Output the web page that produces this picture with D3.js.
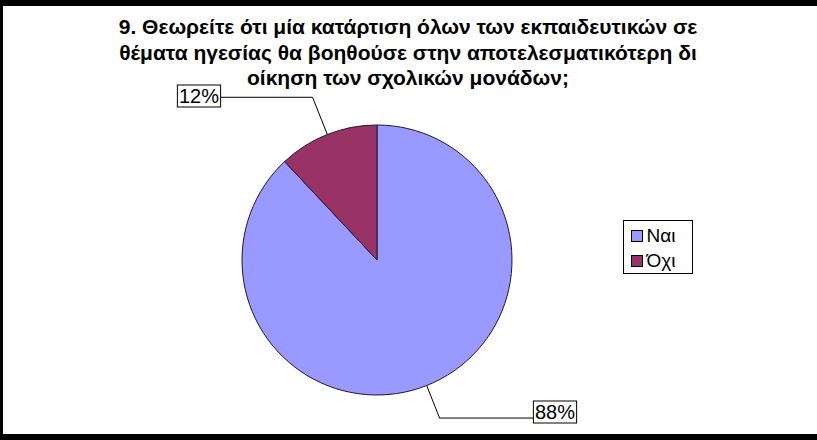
<!DOCTYPE html>
<html lang="el">
<head>
<meta charset="utf-8">
<title>Pie</title>
<style>
body { margin: 0; background: #fff; }
svg { display: block; font-family: "Liberation Sans", Arial, sans-serif; }
.title { font-size: 21px; font-weight: bold; text-anchor: middle; }
.label-text { font-size: 20px; }
.legend-text { font-size: 19px; }
</style>
</head>
<body>
<div id="chart"></div>
<script src="https://d3js.org/d3.v7.min.js"></script>
<script>
var categories = ["Ναι", "Όχι"];
var values = [88, 12];
var colors = ["#9999FF", "#993366"];
var titleLines = [
	"9. Θεωρείτε ότι μία κατάρτιση όλων των εκπαιδευτικών σε",
	"θέματα ηγεσίας θα βοηθούσε στην αποτελεσματικότερη δι",
	"οίκηση των σχολικών μονάδων;"
];

var width = 817, height = 440,
	cx = 377, cy = 260, radius = 135;

var svg = d3.select("#chart").append("svg")
	.attr("width", width)
	.attr("height", height);

// frame
svg.append("rect").attr("x", 0).attr("y", 0).attr("width", width).attr("height", height).attr("fill", "#000");
svg.append("rect").attr("x", 3).attr("y", 6).attr("width", width - 3).attr("height", height - 12).attr("fill", "#fff");

// title
svg.selectAll("text.title").data(titleLines).enter().append("text")
	.attr("class", "title")
	.attr("x", 408)
	.attr("y", function(d, i) { return 34 + i * 25.5; })
	.text(function(d) { return d; });

var color = d3.scaleOrdinal().domain(categories).range(colors);

var pie = d3.pie().sort(null).value(function(d) { return d.value; });
var data = categories.map(function(c, i) { return { name: c, value: values[i] }; });
var arcs = pie(data);
var arc = d3.arc().innerRadius(0).outerRadius(radius);

var g = svg.append("g").attr("transform", "translate(" + cx + "," + cy + ")");

g.selectAll("path").data(arcs).enter().append("path")
	.attr("d", arc)
	.attr("fill", function(d) { return color(d.data.name); })
	.attr("stroke", "#1a1a33")
	.attr("stroke-width", 1);

// leader lines and labels
var total = d3.sum(values);
var labelPos = [
	{ x: 555, y: 412, ext: 35 },
	{ x: 199, y: 96, ext: 40 }
];

arcs.forEach(function(a, i) {
	var mid = (a.startAngle + a.endAngle) / 2;
	var sx = Math.sin(mid), sy = -Math.cos(mid);
	var p0 = [sx * radius, sy * radius];
	var p1 = [sx * (radius + labelPos[i].ext), sy * (radius + labelPos[i].ext)];
	var lx = labelPos[i].x - cx, ly = labelPos[i].y - cy;
	var txt = Math.round(a.data.value / total * 100) + "%";

	var t = g.append("text")
		.attr("class", "label-text")
		.attr("x", lx)
		.attr("y", ly + 7)
		.attr("text-anchor", "middle")
		.text(txt);
	var bb = t.node().getBBox();
	var bw = bb.width + 3, bh = 22;
	var edgeX = sx < 0 ? lx + bw / 2 : lx - bw / 2;

	g.insert("polyline", "text")
		.attr("points", [p0, p1, [edgeX, p1[1]]].map(function(p) { return p.join(","); }).join(" "))
		.attr("fill", "none")
		.attr("stroke", "#000")
		.attr("stroke-width", 1);

	g.insert("rect", "text")
		.attr("x", lx - bw / 2)
		.attr("y", ly - bh / 2)
		.attr("width", bw)
		.attr("height", bh)
		.attr("fill", "#fff")
		.attr("stroke", "#000")
		.attr("stroke-width", 1);
});

// legend
var legend = svg.append("g").attr("transform", "translate(623.5,220.5)");
legend.append("rect")
	.attr("width", 69)
	.attr("height", 53)
	.attr("fill", "#fff")
	.attr("stroke", "#000")
	.attr("stroke-width", 1);

var items = legend.selectAll("g.item").data(categories).enter().append("g")
	.attr("class", "item")
	.attr("transform", function(d, i) { return "translate(8," + (10 + i * 25) + ")"; });

items.append("rect")
	.attr("width", 11)
	.attr("height", 11)
	.attr("fill", function(d) { return color(d); })
	.attr("stroke", "#000")
	.attr("stroke-width", 1);

items.append("text")
	.attr("class", "legend-text")
	.attr("x", 15)
	.attr("y", 11)
	.text(function(d) { return d; });
</script>
</body>
</html>
